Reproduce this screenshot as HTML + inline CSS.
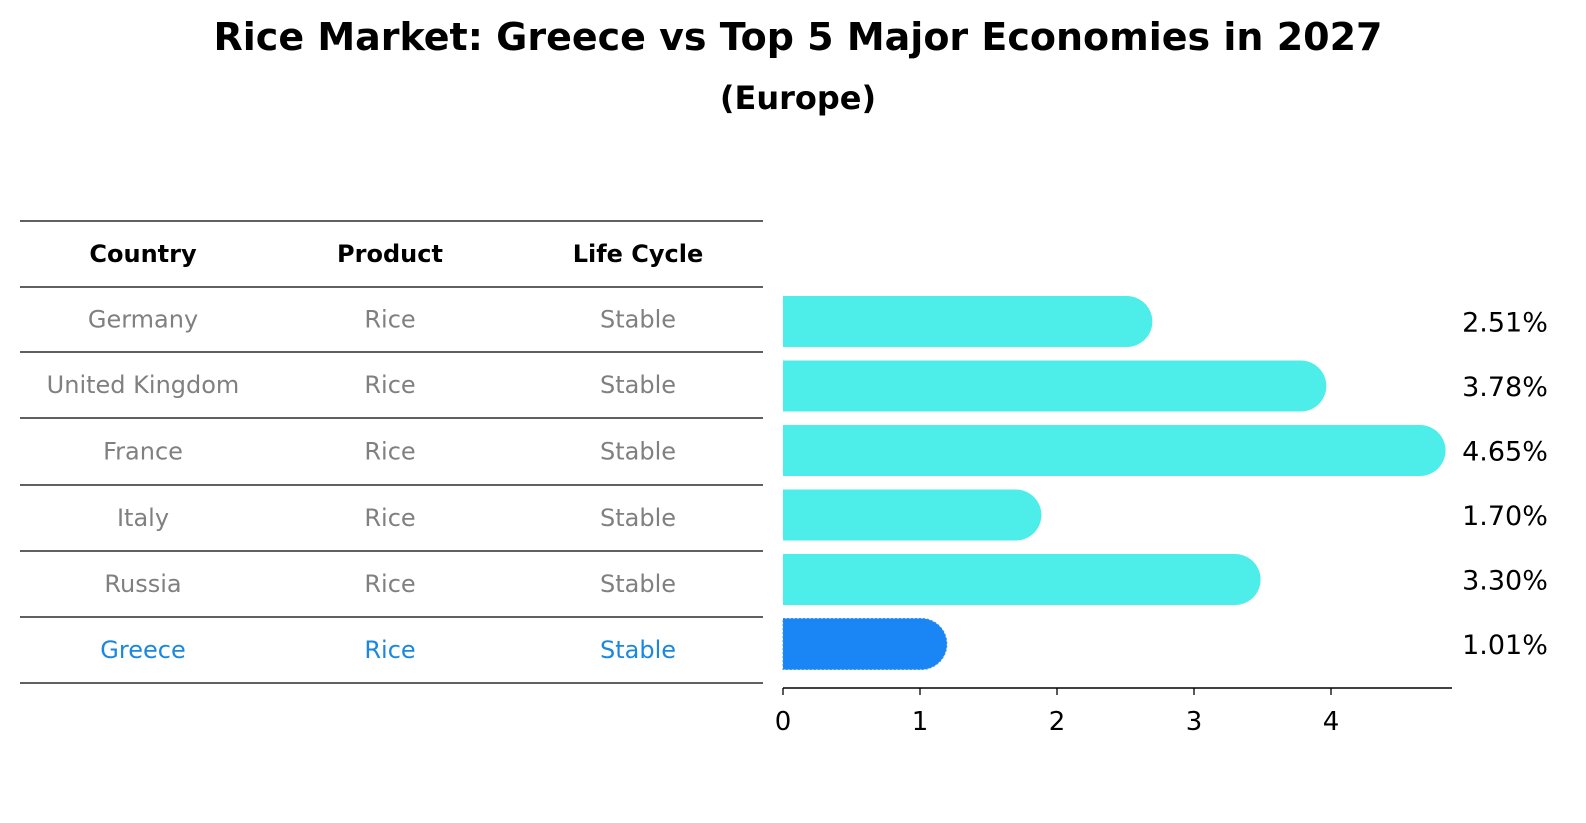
<!DOCTYPE html>
<html><head><meta charset="utf-8"><style>
html,body{margin:0;padding:0;background:#fff;overflow:hidden;width:1586px;height:823px}
svg{display:block}
</style></head><body>
<svg width="1586" height="823" xmlns="http://www.w3.org/2000/svg" font-family="DejaVu Sans, Liberation Sans, sans-serif">
<text x="798" y="50" text-anchor="middle" font-size="38" font-weight="bold">Rice Market: Greece vs Top 5 Major Economies in 2027</text>
<text x="798" y="109" text-anchor="middle" font-size="32" font-weight="bold">(Europe)</text>
<g id="table"></g>
<g id="bars"></g>
</svg>
<script>
const countries=["Germany","United Kingdom","France","Italy","Russia","Greece"];
const products=["Rice","Rice","Rice","Rice","Rice","Rice"];
const lifeCycles=["Stable","Stable","Stable","Stable","Stable","Stable"];
const values=[2.51,3.78,4.65,1.70,3.30,1.01];
const ticks=[0,1,2,3,4];
const NS="http://www.w3.org/2000/svg";
function mk(t,a,p,txt){const e=document.createElementNS(NS,t);for(const k in a)e.setAttribute(k,a[k]);if(txt!==undefined)e.textContent=txt;p.appendChild(e);return e;}
const tbl=document.getElementById('table');
const lines=[221,287,352,418,485,551,617,683];
lines.forEach((y,i)=>{const l=mk('line',{x1:20,x2:763,y1:y,y2:y,stroke:'#000','stroke-width':1.2},tbl);

});
const cx=[143,390,638];
["Country","Product","Life Cycle"].forEach((h,i)=>{const t=mk('text',{x:cx[i],y:262,'text-anchor':'middle','font-size':24,'font-weight':'bold'},tbl,h);

});
countries.forEach((c,r)=>{const y=(lines[r+1]+lines[r+2])/2+8;const col=r===5?'#1a88e0':'#808080';
[c,products[r],lifeCycles[r]].forEach((v,i)=>{const t=mk('text',{x:cx[i],y:y,'text-anchor':'middle','font-size':24,fill:col},tbl,v);

});});
const g=document.getElementById('bars');
const x0=783,ppu=137;const xs=v=>x0+v*ppu;
const h=51,centers=i=>321.5+i*64.5;
values.forEach((v,i)=>{const cy=centers(i),r=h/2,xe=xs(v);
const fill=i===5?'#1a86f5':'#4deee9';
const p=mk('path',{d:`M${x0},${cy-r} L${xe},${cy-r} A${r},${r} 0 0 1 ${xe},${cy+r} L${x0},${cy+r} Z`,fill:fill},g);
if(i===5){p.setAttribute('stroke','#3a8fe0');p.setAttribute('stroke-dasharray','2,2');}


const t=mk('text',{x:1505,y:cy+10,'text-anchor':'middle','font-size':27},g,v.toFixed(2)+'%');

});
const ax=mk('line',{x1:783,x2:1452,y1:688,y2:688,stroke:'#000','stroke-width':1.5},g);


ticks.forEach(tk=>{const tl=mk('line',{x1:xs(tk),x2:xs(tk),y1:688,y2:695,stroke:'#000','stroke-width':1.3},g);


const t=mk('text',{x:xs(tk),y:730,'text-anchor':'middle','font-size':26},g,String(tk));

});
</script>
</body></html>
